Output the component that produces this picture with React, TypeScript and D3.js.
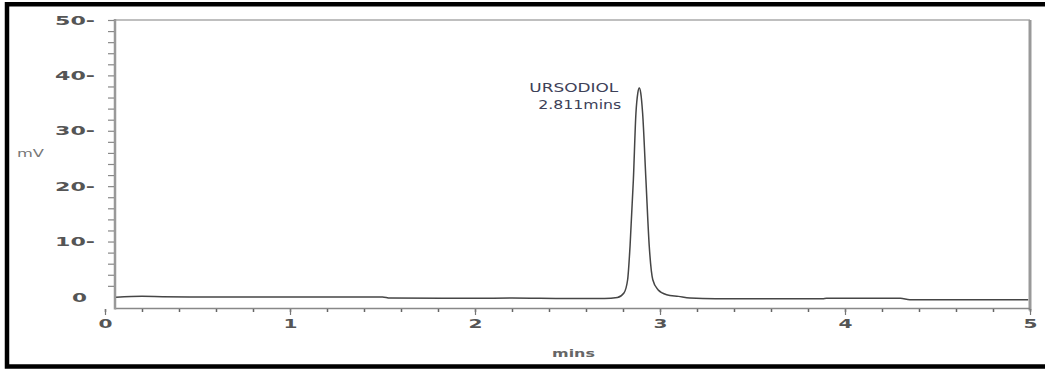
import React, { useEffect, useRef } from 'react';
import * as d3 from 'd3';

// chromatogram trace (time in mins, signal in mV)
const times = [
  0.06, 0.2, 0.31, 0.5, 1.0, 1.5, 1.54, 2.0, 2.2, 2.5, 2.7, 2.77,
  2.805, 2.825, 2.838, 2.856, 2.87, 2.88, 2.888, 2.896, 2.906, 2.924,
  2.942, 2.961, 2.989, 3.036, 3.1, 3.162, 3.3, 3.88, 3.9, 4.3, 4.35, 4.99,
];
const signal = [
  -0.05, 0.1, 0.05, 0.0, 0.0, 0.0, -0.2, -0.25, -0.2, -0.3, -0.3, -0.1,
  0.7, 3.1, 9.1, 21.1, 33.2, 36.8, 37.7, 36.8, 33.2, 21.1,
  9.1, 3.1, 1.3, 0.4, 0.1, -0.2, -0.35, -0.35, -0.25, -0.25, -0.5, -0.5,
];

const xTicks = [0, 1, 2, 3, 4, 5];
const yTicks = [0, 10, 20, 30, 40, 50];
const peakName = 'URSODIOL';
const peakTime = '2.811mins';

const W = 1045;
const H = 370;

const App = () => {
  const ref = useRef<SVGSVGElement>(null);

  useEffect(() => {
    const svg = d3.select(ref.current);
    svg.selectAll('*').remove();

    const x = d3.scaleLinear().domain([0, 5]).range([105, 1030]);
    const y = d3.scaleLinear().domain([-2, 50]).range([308, 20]);
    const left = 115;
    const bottom = 308.5;

    // outer black frame (open on the right)
    svg.append('path')
      .attr('d', `M${W},4.2 H7 V366.5 H${W}`)
      .attr('fill', 'none')
      .attr('stroke', '#000')
      .attr('stroke-width', 4.5);

    // plot frame
    svg.append('line').attr('x1', left).attr('x2', 1030).attr('y1', 20).attr('y2', 20)
      .attr('stroke', '#aaa').attr('stroke-width', 1.5);
    svg.append('line').attr('x1', 1030).attr('x2', 1030).attr('y1', 20).attr('y2', bottom + 2)
      .attr('stroke', '#999').attr('stroke-width', 3);
    svg.append('line').attr('x1', left).attr('x2', 1030).attr('y1', bottom).attr('y2', bottom)
      .attr('stroke', '#888').attr('stroke-width', 1.5);
    svg.append('line').attr('x1', left).attr('x2', left).attr('y1', 19).attr('y2', bottom + 1)
      .attr('stroke', '#999').attr('stroke-width', 2.5);

    // x minor ticks
    const xMinor = svg.append('g').attr('transform', `translate(0,${bottom + 0.5})`)
      .call(d3.axisBottom(x).tickValues(d3.range(0, 5.001, 0.2)).tickSize(3).tickFormat(() => ''));
    xMinor.select('.domain').remove();
    xMinor.selectAll('line').attr('stroke', '#666').attr('stroke-width', 1.5);

    // x major ticks + labels
    const xAxis = svg.append('g').attr('transform', `translate(0,${bottom + 0.5})`)
      .call(d3.axisBottom(x).tickValues(xTicks).tickSize(6).tickPadding(4).tickFormat(d3.format('d')));
    xAxis.select('.domain').remove();
    xAxis.selectAll('line').attr('stroke', '#777').attr('stroke-width', 1.2);
    xAxis.selectAll('text')
      .attr('font-family', 'DejaVu Sans')
      .attr('font-weight', 'bold')
      .attr('font-size', 13)
      .attr('fill', '#555')
      .attr('textLength', 14)
      .attr('lengthAdjust', 'spacingAndGlyphs');

    // y minor ticks
    const yMinor = svg.append('g').attr('transform', `translate(${left - 1},0)`)
      .call(d3.axisLeft(y).tickValues(d3.range(2, 50.001, 2)).tickSize(6).tickFormat(() => ''));
    yMinor.select('.domain').remove();
    yMinor.selectAll('line').attr('stroke', '#888').attr('stroke-width', 1.2);

    // y labels
    const yAxis = svg.append('g').attr('transform', `translate(${left},0)`)
      .call(d3.axisLeft(y).tickValues(yTicks).tickSize(0).tickPadding(20)
        .tickFormat(d => (+d === 0 ? '0' : `${d}-`)));
    yAxis.select('.domain').remove();
    yAxis.selectAll<SVGTextElement, number>('text')
      .attr('x', d => (d === 0 ? -28 : -20))
      .attr('font-family', 'DejaVu Sans')
      .attr('font-weight', 'bold')
      .attr('font-size', 13)
      .attr('fill', '#555')
      .attr('textLength', d => (d === 0 ? 15 : 40))
      .attr('lengthAdjust', 'spacingAndGlyphs');

    // axis titles
    svg.append('text').attr('x', 17).attr('y', 157).text('mV')
      .attr('font-family', 'DejaVu Sans').attr('font-size', 10).attr('fill', '#777')
      .attr('textLength', 27).attr('lengthAdjust', 'spacingAndGlyphs');
    svg.append('text').attr('x', 552).attr('y', 357).text('mins')
      .attr('font-family', 'DejaVu Sans').attr('font-weight', 'bold').attr('font-size', 11).attr('fill', '#666')
      .attr('textLength', 43).attr('lengthAdjust', 'spacingAndGlyphs');

    // trace
    const data = times.map((t, i) => [t, signal[i]] as [number, number]);
    const line = d3.line<[number, number]>()
      .x(d => x(d[0]))
      .y(d => y(d[1]))
      .curve(d3.curveMonotoneX);
    svg.append('path')
      .datum(data)
      .attr('d', line)
      .attr('fill', 'none')
      .attr('stroke', '#454545')
      .attr('stroke-width', 1.5);

    // peak annotation
    const iMax = d3.maxIndex(signal);
    const px = x(times[iMax]);
    const py = y(signal[iMax]);
    svg.append('text').attr('x', px - 21).attr('y', py + 4).text(peakName)
      .attr('text-anchor', 'end')
      .attr('font-family', 'DejaVu Sans').attr('font-size', 13).attr('fill', '#3d4158')
      .attr('textLength', 89).attr('lengthAdjust', 'spacingAndGlyphs');
    svg.append('text').attr('x', px - 18).attr('y', py + 21).text(peakTime)
      .attr('text-anchor', 'end')
      .attr('font-family', 'DejaVu Sans').attr('font-size', 13).attr('fill', '#3d4158')
      .attr('textLength', 83).attr('lengthAdjust', 'spacingAndGlyphs');
  }, []);

  return (
    <svg
      ref={ref}
      width={W}
      height={H}
      style={{ position: 'absolute', left: 0, top: 0, background: '#fff' }}
    />
  );
};

export default App;
